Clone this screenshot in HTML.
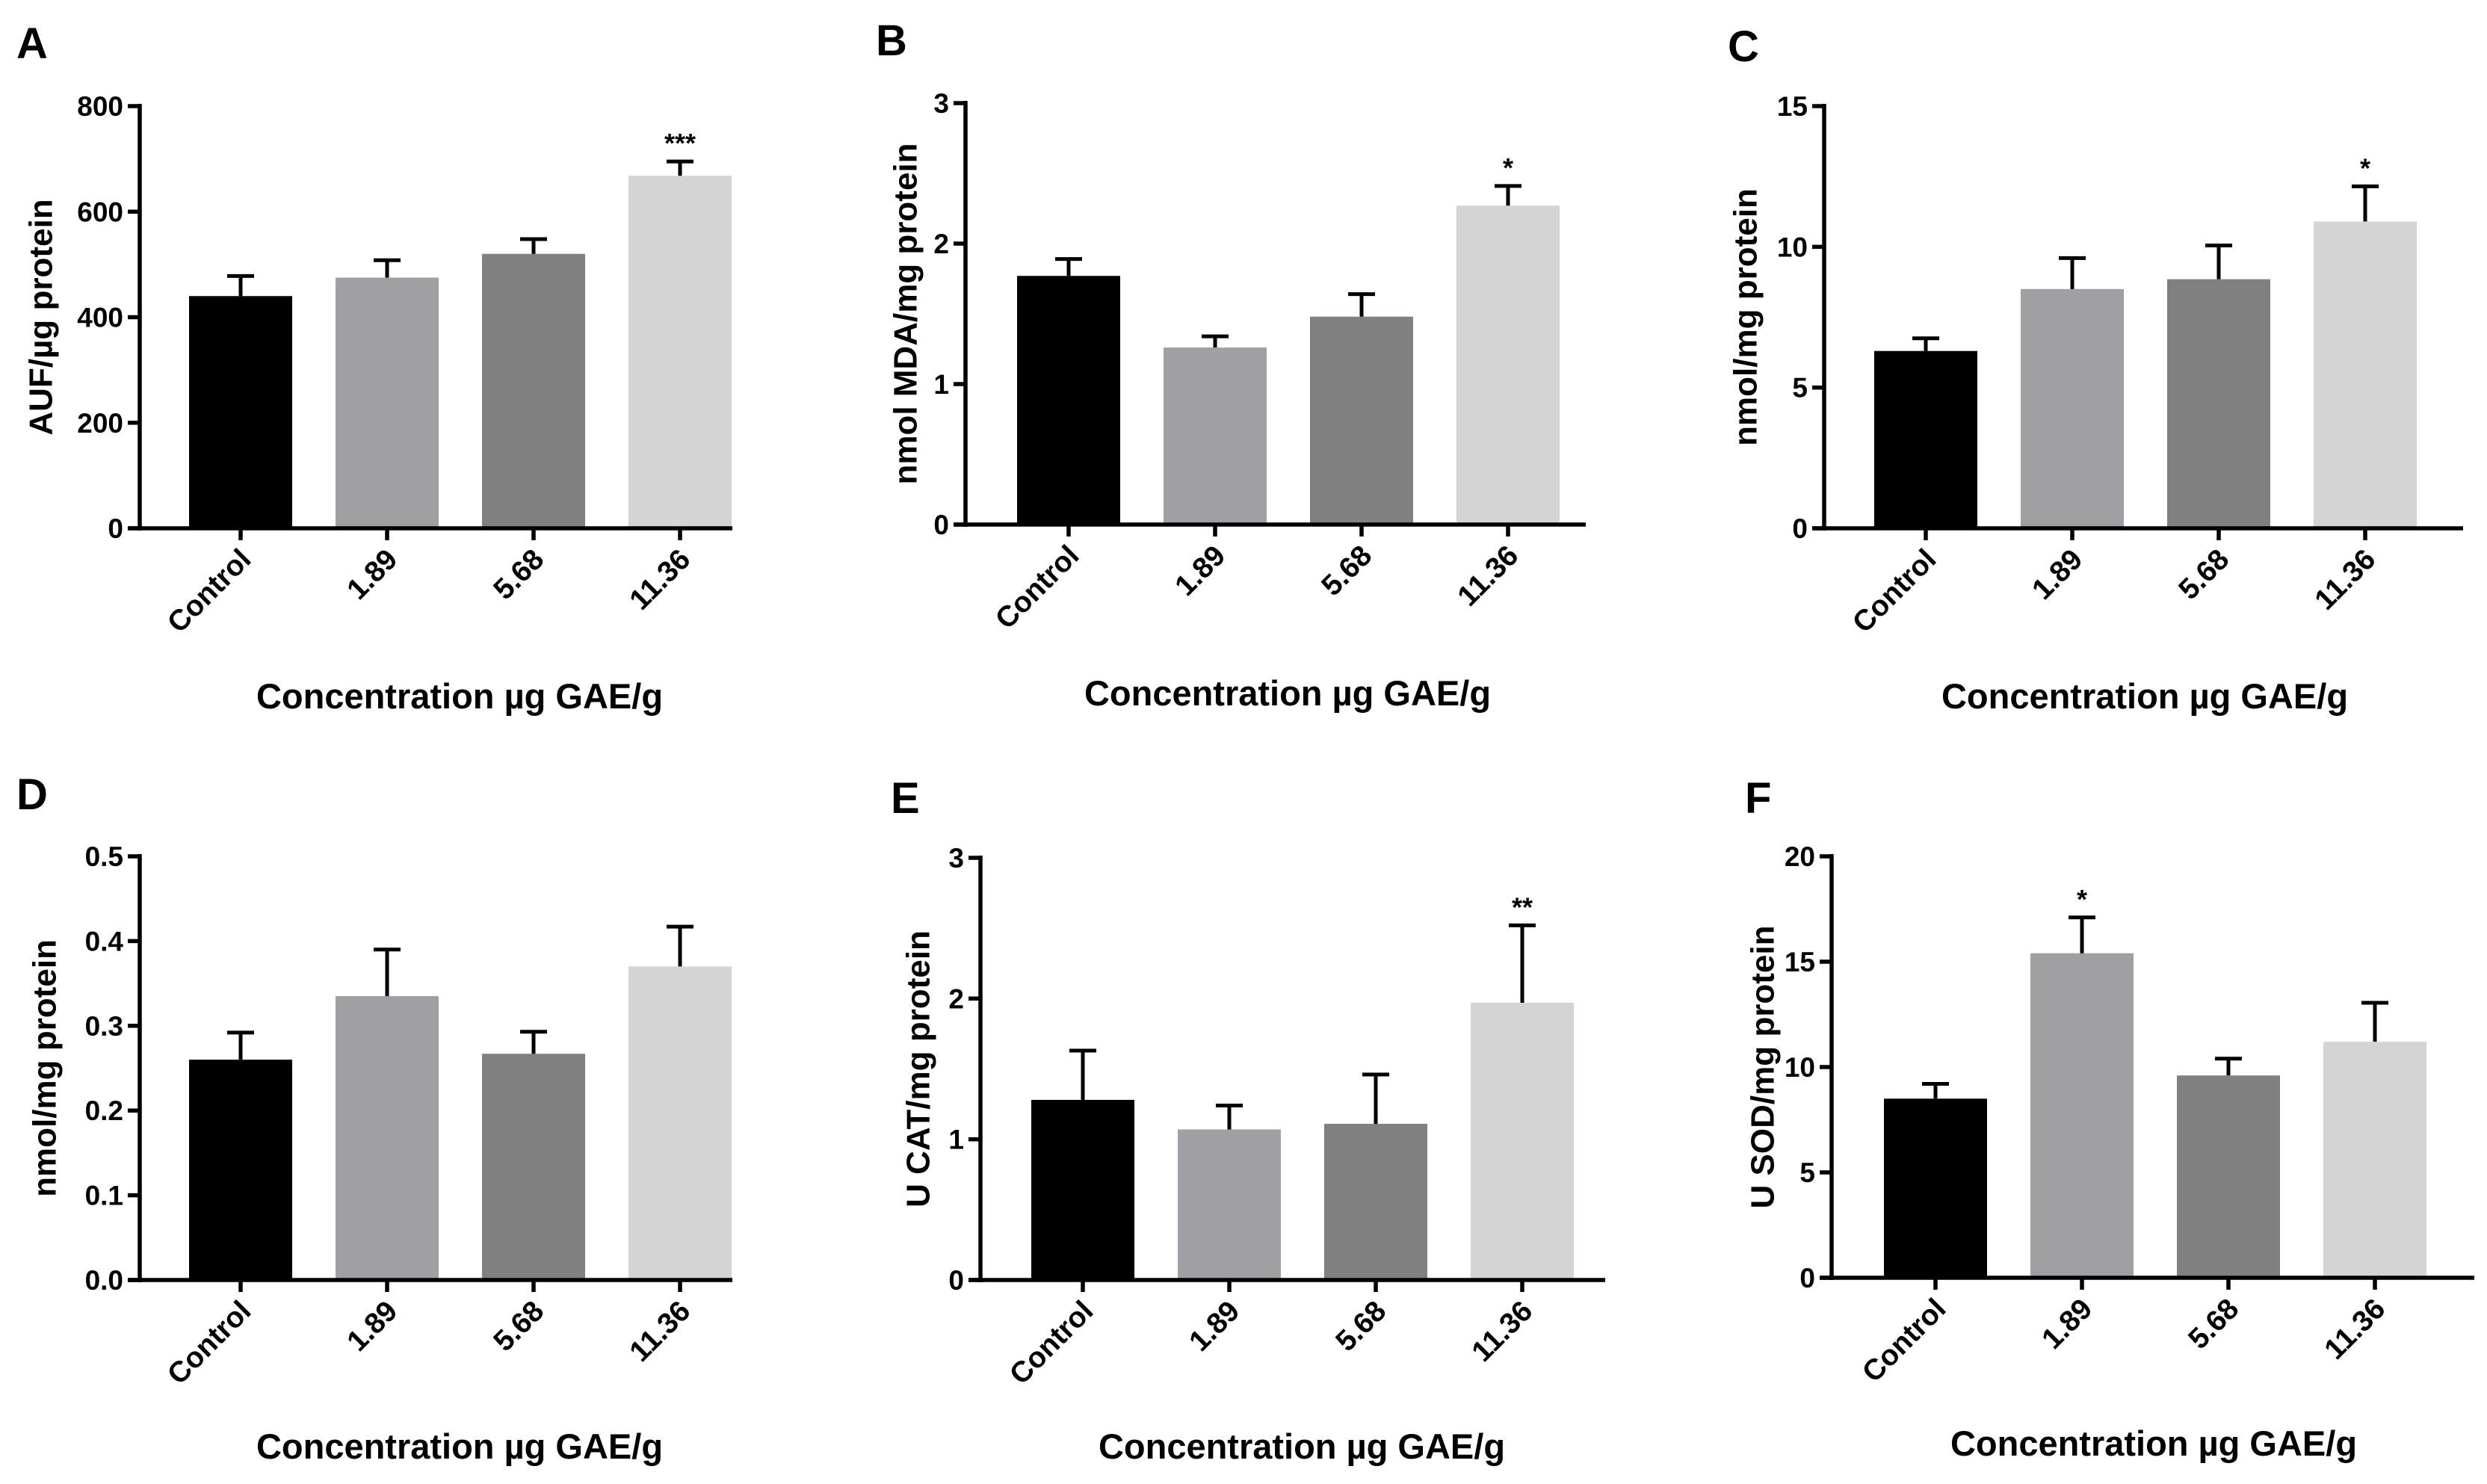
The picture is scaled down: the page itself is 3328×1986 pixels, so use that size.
<!DOCTYPE html>
<html><head><meta charset="utf-8">
<style>
html,body{margin:0;padding:0;background:#fff;}
svg{display:block;font-family:"Liberation Sans",Arial,sans-serif;}
text{font-weight:bold;fill:#000;}
</style></head>
<body>
<svg id="fig" width="3328" height="1986" viewBox="0 0 3328 1986" xmlns="http://www.w3.org/2000/svg"></svg>
<script>
const categories = ["Control","1.89","5.68","11.36"];
const valuesA = [440,475,520,668];
const errorsA = [38,33,28,27];
const valuesB = [1.77,1.26,1.48,2.27];
const errorsB = [0.12,0.08,0.16,0.14];
const valuesC = [6.3,8.5,8.85,10.9];
const errorsC = [0.45,1.1,1.2,1.25];
const valuesD = [0.26,0.335,0.267,0.37];
const errorsD = [0.032,0.055,0.026,0.047];
const valuesE = [1.28,1.07,1.11,1.97];
const errorsE = [0.35,0.17,0.35,0.55];
const valuesF = [8.5,15.4,9.6,11.2];
const errorsF = [0.7,1.7,0.8,1.85];
const ticksA = ["0","200","400","600","800"];
const ticksB = ["0","1","2","3"];
const ticksC = ["0","5","10","15"];
const ticksD = ["0.0","0.1","0.2","0.3","0.4","0.5"];
const ticksE = ["0","1","2","3"];
const ticksF = ["0","5","10","15","20"];
const sigA = ["","","","***"];
const sigB = ["","","","*"];
const sigC = ["","","","*"];
const sigD = ["","","",""];
const sigE = ["","","","**"];
const sigF = ["","*","",""];

const colors = ["#000000","#a0a0a4","#808080","#d4d4d4"];
const NS = "http://www.w3.org/2000/svg";
const svg = document.getElementById("fig");
function mk(tag, attrs, parent){
  const e = document.createElementNS(NS, tag);
  for (const k in attrs) e.setAttribute(k, attrs[k]);
  (parent||svg).appendChild(e);
  return e;
}
const panels = [
 {id:"a",letter:"A",lx:22,ly:78,ax:187,top:142,zero:707,c0:322,end:980,max:800,vals:valuesA,errs:errorsA,ticks:ticksA,sig:sigA,ytitle:"AUF/\u00b5g protein",ytx:58,xtx:615,xty:948},
 {id:"b",letter:"B",lx:1172,ly:74,ax:1292,top:138,zero:702,c0:1430,end:2122,max:3,vals:valuesB,errs:errorsB,ticks:ticksB,sig:sigB,ytitle:"nmol MDA/mg protein",ytx:1215,xtx:1723,xty:944},
 {id:"c",letter:"C",lx:2312,ly:82,ax:2441,top:142,zero:707,c0:2577,end:3296,max:15,vals:valuesC,errs:errorsC,ticks:ticksC,sig:sigC,ytitle:"nmol/mg protein",ytx:2339,xtx:2870,xty:948},
 {id:"d",letter:"D",lx:22,ly:1083,ax:187,top:1146,zero:1713,c0:322,end:980,max:0.5,vals:valuesD,errs:errorsD,ticks:ticksD,sig:sigD,ytitle:"nmol/mg protein",ytx:63,xtx:615,xty:1952},
 {id:"e",letter:"E",lx:1192,ly:1088,ax:1312,top:1148,zero:1713,c0:1449,end:2148,max:3,vals:valuesE,errs:errorsE,ticks:ticksE,sig:sigE,ytitle:"U CAT/mg protein",ytx:1232,xtx:1742,xty:1952},
 {id:"f",letter:"F",lx:2335,ly:1088,ax:2451,top:1146,zero:1710,c0:2590,end:3311,max:20,vals:valuesF,errs:errorsF,ticks:ticksF,sig:sigF,ytitle:"U SOD/mg protein",ytx:2362,xtx:2882,xty:1948}
];
const pitch = 196, bw = 138;
panels.forEach(p=>{
  const g = mk("g",{});
  
  
  const y = v => p.zero - (v/p.max)*(p.zero-p.top);
  const x = i => p.c0 + i*pitch;
  const L = mk("text",{x:p.lx,y:p.ly,"font-size":58},g); L.textContent=p.letter;
  
  
  p.vals.forEach((v,i)=>{
    const r = mk("rect",{x:x(i)-bw/2,y:y(v),width:bw,height:p.zero-y(v),fill:colors[i]},g);
    
    
    const top = y(v+p.errs[i]);
    const eb = mk("path",{d:`M${x(i)} ${y(v)} V${top} M${x(i)-18} ${top} H${x(i)+18}`,stroke:"#000","stroke-width":5,fill:"none"},g);
    
    
    if (p.sig[i]) {
      const s = mk("text",{x:x(i),y:top-12,"font-size":36,"text-anchor":"middle","font-weight":"normal"},g);
      s.textContent = p.sig[i];
      
      
    }
    const t = mk("line",{x1:x(i),x2:x(i),y1:p.zero,y2:p.zero+16,stroke:"#000","stroke-width":5.5},g);
    
    
    const lx = x(i)+16, ly = p.zero+44;
    const tl = mk("text",{x:lx,y:ly,"font-size":39,"text-anchor":"end",transform:`rotate(-45 ${lx} ${ly})`},g);
    tl.textContent = categories[i];
    
    
  });
  const ya = mk("line",{x1:p.ax,x2:p.ax,y1:p.top-3,y2:p.zero+3,stroke:"#000","stroke-width":5.5},g);
  
  
  const xa = mk("line",{x1:p.ax-16,x2:p.end,y1:p.zero,y2:p.zero,stroke:"#000","stroke-width":5.5},g);
  
  
  const n = p.ticks.length-1;
  p.ticks.forEach((t,k)=>{
    const ty = y(p.max*k/n);
    const tk = mk("line",{x1:p.ax-16,x2:p.ax,y1:ty,y2:ty,stroke:"#000","stroke-width":5.5},g);
    
    
    const tt = mk("text",{x:p.ax-22,y:ty+13,"font-size":37,"text-anchor":"end"},g);
    tt.textContent = t;
    
    
  });
  const cy = (p.top+p.zero)/2;
  const yt = mk("text",{x:p.ytx,y:cy,"font-size":44,"text-anchor":"middle",transform:`rotate(-90 ${p.ytx} ${cy})`,"dominant-baseline":"middle"},g);
  yt.textContent = p.ytitle;
  
  
  const xt = mk("text",{x:p.xtx,y:p.xty,"font-size":47,"text-anchor":"middle"},g);
  xt.textContent = "Concentration \u00b5g GAE/g";
  
  
});
</script>
</body></html>
